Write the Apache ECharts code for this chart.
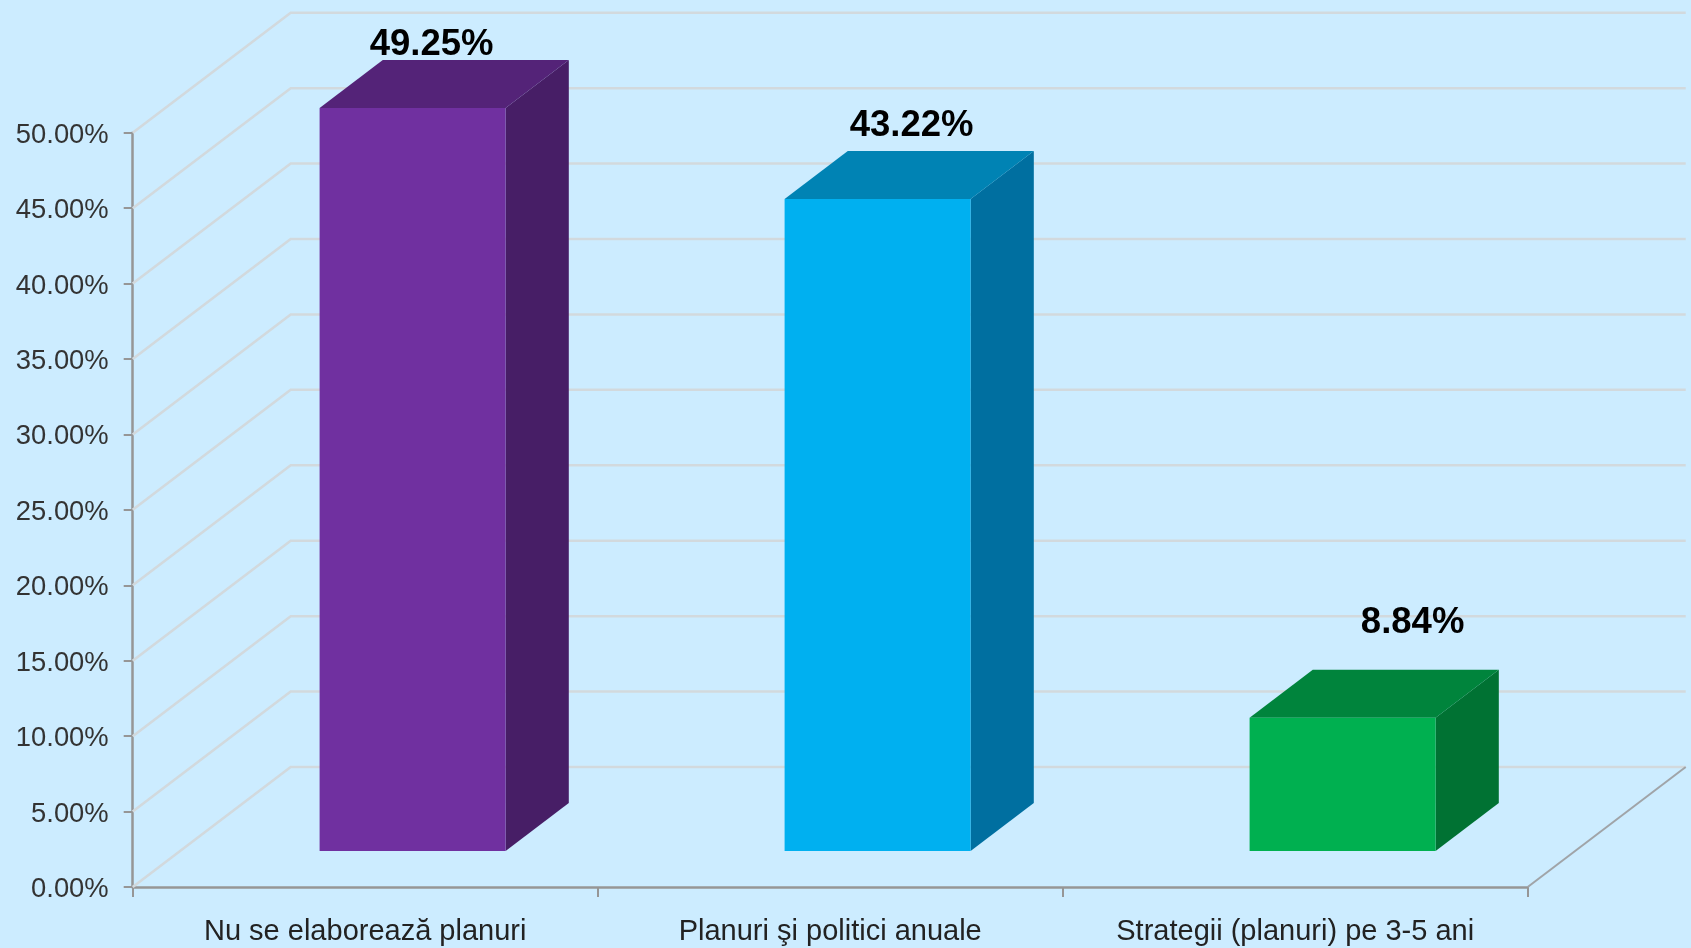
<!DOCTYPE html>
<html>
<head>
<meta charset="utf-8">
<style>html,body{margin:0;padding:0;background:#CCECFF;overflow:hidden}#c{width:1691px;height:948px}</style>
<script src="https://cdn.jsdelivr.net/npm/echarts@6/dist/echarts.min.js"></script>
</head>
<body>
<div id="c"></div>
<script>
var categories = ['Nu se elaborează planuri', 'Planuri şi politici anuale', 'Strategii (planuri) pe 3-5 ani'];
var values = [49.25, 43.22, 8.84];
var valueLabels = ['49.25%', '43.22%', '8.84%'];
var yTicks = [0, 5, 10, 15, 20, 25, 30, 35, 40, 45, 50];

var frontColors = ['#7030A0', '#00B0F0', '#00B050'];
var topColors = ['#542378', '#0083B4', '#00843C'];
var sideColors = ['#471E66', '#006FA0', '#007233'];
var labelShift = [[19, -63], [34, -73], [70, -95]];

var DEPTH_X = 158, DEPTH_Y = 120;
var BAR_FRONT = 0.3, BAR_BACK = 0.7, BAR_WIDTH = 0.4;
var FONT = '"Liberation Sans", Arial, sans-serif';

var chart = echarts.init(document.getElementById('c'), null, {renderer: 'canvas'});

function renderGrid(params, api) {
  var v = api.value(0);
  var cs = params.coordSys;
  var y = api.coord([0, v])[1];
  var left = cs.x, right = cs.x + cs.width;
  var line = {stroke: '#D2D9DD', lineWidth: 2.5, fill: null};
  var kids = [{
    type: 'polyline',
    shape: {points: [[left, y], [left + DEPTH_X, y - DEPTH_Y], [right + DEPTH_X, y - DEPTH_Y]]},
    style: line
  }];
  if (v === 0) {
    kids.push({
      type: 'line',
      shape: {x1: right, y1: y, x2: right + DEPTH_X, y2: y - DEPTH_Y},
      style: {stroke: '#A0A4A8', lineWidth: 2}
    });
  }
  return {type: 'group', children: kids};
}

function renderBar(params, api) {
  var i = api.value(0);
  var center = api.coord([i, 0]);
  var band = api.size([1, 0])[0];
  var top = api.coord([i, api.value(1)])[1];
  var bottom = center[1];
  var fx = DEPTH_X * BAR_FRONT, fy = DEPTH_Y * BAR_FRONT;
  var bx = DEPTH_X * BAR_BACK, by = DEPTH_Y * BAR_BACK;
  var x0 = center[0] - band * BAR_WIDTH / 2, x1 = center[0] + band * BAR_WIDTH / 2;
  var front = [[x0 + fx, top - fy], [x1 + fx, top - fy], [x1 + fx, bottom - fy], [x0 + fx, bottom - fy]];
  var topFace = [[x0 + fx, top - fy], [x0 + bx, top - by], [x1 + bx, top - by], [x1 + fx, top - fy]];
  var side = [[x1 + fx, top - fy], [x1 + bx, top - by], [x1 + bx, bottom - by], [x1 + fx, bottom - fy]];
  var idx = params.dataIndex;
  var shift = labelShift[idx];
  return {
    type: 'group',
    children: [
      {type: 'polygon', shape: {points: side}, style: {fill: sideColors[idx]}},
      {type: 'polygon', shape: {points: topFace}, style: {fill: topColors[idx]}},
      {type: 'polygon', shape: {points: front}, style: {fill: frontColors[idx]}},
      {type: 'text', x: center[0] + fx + shift[0], y: top - fy + shift[1],
        style: {text: valueLabels[idx], fill: '#000', font: 'bold 36.5px ' + FONT, align: 'center', verticalAlign: 'middle'}}
    ]
  };
}

chart.setOption({
  animation: false,
  backgroundColor: '#CCECFF',
  grid: {left: 132.7, right: 163.3, top: 132.7, bottom: 61},
  xAxis: {
    type: 'category',
    data: categories,
    axisLine: {show: true, lineStyle: {color: '#969696', width: 2.5}},
    axisTick: {show: true, length: 10, lineStyle: {color: '#969696', width: 2}},
    axisLabel: {color: '#222', fontFamily: FONT, fontSize: 29, margin: 30, interval: 0}
  },
  yAxis: {
    type: 'value',
    min: 0,
    max: 50,
    interval: 5,
    splitLine: {show: false},
    axisLine: {show: true, lineStyle: {color: '#969696', width: 2.5}},
    axisTick: {show: true, length: 9, lineStyle: {color: '#969696', width: 2}},
    axisLabel: {color: '#333', fontFamily: FONT, fontSize: 27.4, margin: 24, formatter: function (v) { return '{a|' + v.toFixed(2) + '%}'; },
      rich: {a: {color: '#333', fontFamily: FONT, fontSize: 27.4, padding: [5, 0, 0, 0]}}}
  },
  series: [
    {type: 'custom', z: 1, silent: true, data: yTicks.map(function (t) { return [t]; }), encode: {y: 0}, renderItem: renderGrid},
    {type: 'custom', z: 3, silent: true, data: values.map(function (v, i) { return [i, v]; }), encode: {x: 0, y: 1}, renderItem: renderBar}
  ]
});
</script>
</body>
</html>
